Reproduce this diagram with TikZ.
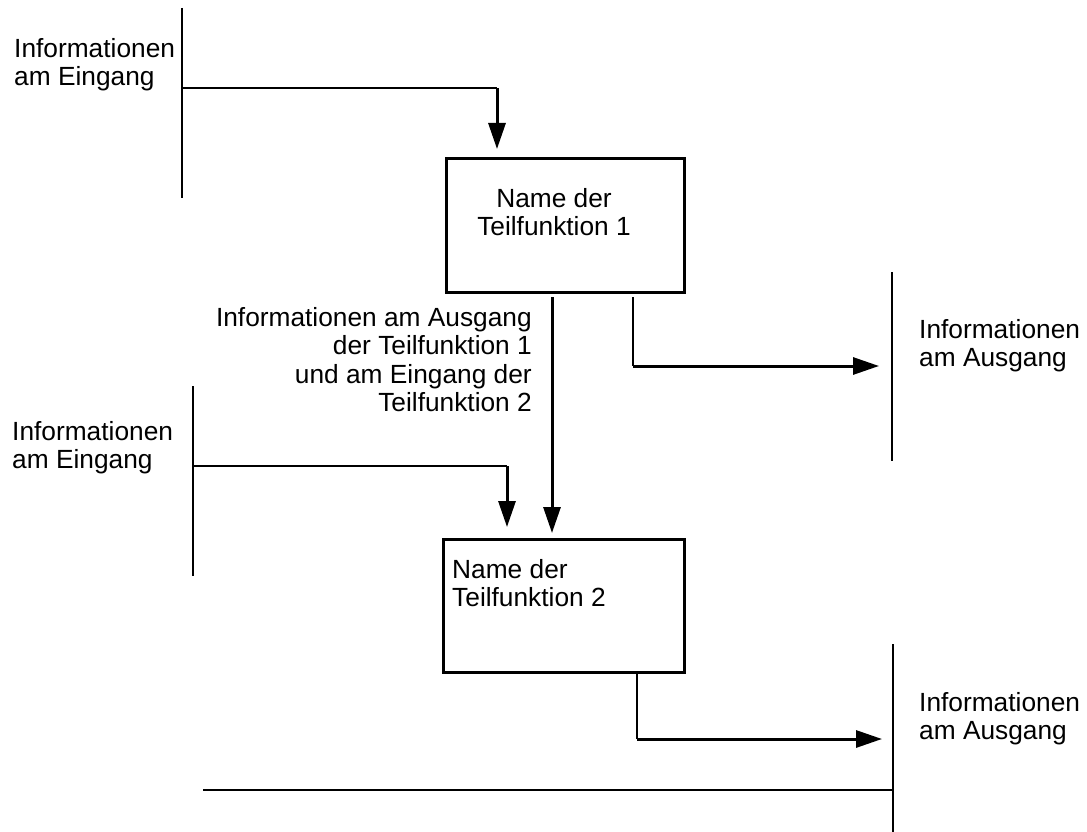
\documentclass[tikz,border=0pt]{standalone}
\usepackage{fontspec}
\setmainfont{Liberation Sans}
\usetikzlibrary{arrows.meta}
\begin{document}
\begin{tikzpicture}[x=1pt,y=-1pt,
  lbl/.style={font=\fontsize{26.3pt}{28.5pt}\selectfont, inner sep=0pt, align=left, anchor=north west},
  bar/.style={line width=2.5pt},
  wire/.style={line width=2pt},
  flow/.style={line width=3pt, -{Triangle[length=26pt,width=17pt]}},
  boxst/.style={draw, line width=3pt, inner sep=0pt, minimum height=133pt}]
\useasboundingbox (0,0) rectangle (1087,832);

% boxes
\node[boxst, minimum width=238pt] (f1) at (565,225.5) {};
\node[boxst, minimum width=241pt] (f2) at (563.5,605.5) {};

% vertical bars and bottom line
\coordinate (la1) at (182,8);   \coordinate (lb1) at (182,198);
\coordinate (la2) at (193,386); \coordinate (lb2) at (193,576);
\coordinate (ra1) at (892,272); \coordinate (rb1) at (892,461);
\coordinate (ra2) at (893,644); \coordinate (rb2) at (893,832);
\coordinate (bl) at (203,790);
\draw[bar] (la1) -- (lb1);
\draw[bar] (la2) -- (lb2);
\draw[bar] (ra1) -- (rb1);
\draw[bar] (ra2) -- (rb2);
\draw[wire] (bl) -- (bl -| ra2);

% input 1
\coordinate (j1) at (182,88); \coordinate (k1) at (497,88);
\draw[wire] (j1) -- (k1);
\draw[flow, shorten >=8.5pt] (k1) -- (k1 |- f1.north);

% input 2
\coordinate (j2) at (193,466); \coordinate (k2) at (507,466);
\draw[wire] (j2) -- (k2);
\draw[flow, shorten >=10.5pt] (k2) -- (k2 |- f2.north);

% main flow
\coordinate (xm) at (552,0);
\draw[flow, shorten <=3.5pt, shorten >=4.5pt] (xm |- f1.south) -- (xm |- f2.north);

% output 1
\coordinate (o1) at (633,366);
\draw[wire, shorten <=3.5pt] (o1 |- f1.south) -- (o1);
\draw[flow, shorten >=13pt] (o1) -- (o1 -| ra1);

% output 2
\coordinate (o2) at (637,739);
\draw[wire] (o2 |- f2.south) -- (o2);
\draw[flow, shorten >=11pt] (o2) -- (o2 -| ra2);

% labels
\node[lbl] (tin1) at (14,38) {Informationen\\am Eingang};
\node[lbl] (tin2) at (12,421) {Informationen\\am Eingang};
\node[lbl, align=right, anchor=north east] (tmid) at (532,307) {Informationen am Ausgang\\der Teilfunktion 1\\und am Eingang der\\Teilfunktion 2};
\node[lbl, align=center, anchor=north] (t1) at (554,188) {Name der\\Teilfunktion 1};
\node[lbl] (t2) at (452,559) {Name der\\Teilfunktion 2};
\node[lbl] (tout1) at (919,319) {Informationen\\am Ausgang};
\node[lbl] (tout2) at (919,692) {Informationen\\am Ausgang};
\end{tikzpicture}
\end{document}
